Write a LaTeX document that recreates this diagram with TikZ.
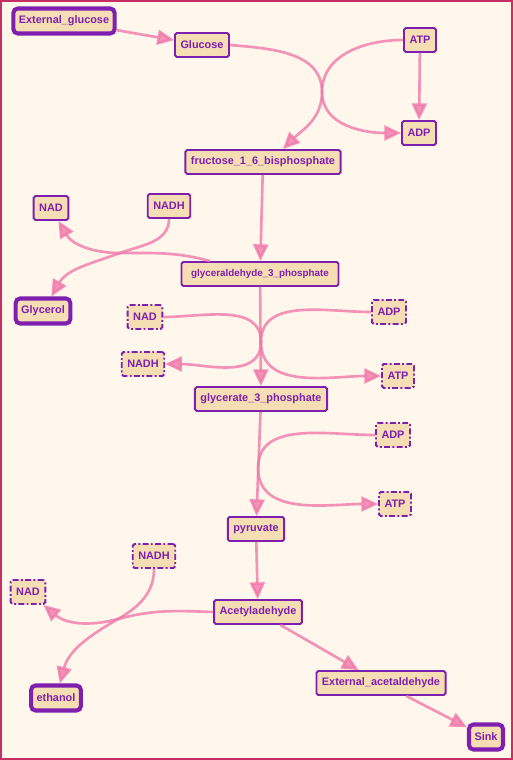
\documentclass[tikz,border=0pt]{standalone}
\usepackage[rgb]{xcolor}
\usepackage{fontspec}
\setmainfont{Liberation Sans}
\usetikzlibrary{arrows.meta,calc}
\definecolor{bgcream}{RGB}{255,246,236}
\definecolor{framered}{RGB}{196,48,100}
\definecolor{wheatfill}{RGB}{245,222,179}
\definecolor{speciespurple}{RGB}{126,31,176}
\definecolor{fluxpink}{RGB}{240,120,170}

\begin{document}
\begin{tikzpicture}[x=0.02cm, y=-0.02cm,
            species/.style={draw=speciespurple, fill=wheatfill, text=speciespurple, line width=1.1pt, rounded corners=1pt, font=\bfseries\fontsize{6.2}{7}\selectfont, inner xsep=0.11cm, inner ysep=0pt, minimum height=0.48cm},
            boundary/.style={species, line width=2.3pt, rounded corners=2.5pt, minimum height=0.5cm},
            cofactor/.style={species, dash pattern=on 3.4pt off 1.3pt on 1.1pt off 1.3pt},
            flux/.style={draw=fluxpink, opacity=0.8, line width=1.5pt, -{Triangle[length=9.5pt, width=8.5pt]}}
        ]
            \useasboundingbox (0,0) rectangle (513,760);
            \fill[bgcream] (0,0) rectangle (513,760);
            \draw[framered, line width=0.85pt] (0.8,0.8) rectangle (512.2,759.2);

            \node[boundary] (eg) at (64,21) {External\_glucose};
            \node[species] (glc) at (202,45) {Glucose};
            \node[species] (atp1) at (420,40) {ATP};
            \node[species] (adp1) at (419,133) {ADP};
            \node[species] (fbp) at (263,162) {fructose\_1\_6\_bisphosphate};
            \node[species] (nad1) at (51,208) {NAD};
            \node[species] (nadh1) at (169,206) {NADH};
            \node[species, font=\bfseries\fontsize{5.6}{7}\selectfont, minimum width=3.14cm] (gap) at (260,274) {glyceraldehyde\_3\_phosphate};
            \node[boundary] (glyc) at (43,311) {Glycerol};
            \node[cofactor] (nad2) at (145,317) {NAD};
            \node[cofactor] (adp2) at (389,312) {ADP};
            \node[cofactor] (nadh2) at (143,364) {NADH};
            \node[cofactor] (atp2) at (398,376) {ATP};
            \node[species] (g3p) at (261,399) {glycerate\_3\_phosphate};
            \node[cofactor] (adp3) at (393,435) {ADP};
            \node[cofactor] (atp3) at (395,504) {ATP};
            \node[species] (pyr) at (256,529) {pyruvate};
            \node[cofactor] (nadh3) at (154,556) {NADH};
            \node[cofactor] (nad3) at (28,592) {NAD};
            \node[species] (acald) at (258,612) {Acetyladehyde};
            \node[species] (extac) at (381,683) {External\_acetaldehyde};
            \node[boundary] (etoh) at (56,698) {ethanol};
            \node[boundary] (sink) at (486,737) {Sink};

            \coordinate (r1) at (322,92);
            \coordinate (r2) at (120,253);
            \coordinate (r3) at (261,342);
            \coordinate (r4) at (258,468);
            \coordinate (r5) at (118,619);

            \draw[flux] (eg) -- (glc);
            \draw[flux] (glc.east) to[out=-5,in=90] (r1) to[out=-90,in=180] (adp1.west);
            \draw[flux] (atp1.west) to[out=180,in=90] (r1) to[out=-90,in=45] ($(fbp.north)+(20,0)$);
            \draw[flux] (atp1) -- (adp1);
            \draw[flux] (fbp) -- (gap);
            \draw[flux] ($(gap.north)+(-50,0)$) to[out=165,in=0] (r2) to[out=180,in=-60] (nad1);
            \draw[flux] (nadh1.south) to[out=-90,in=20] (r2) to[out=200,in=60] (glyc);
            \draw[flux] (gap) -- (g3p);
            \draw[flux] (nad2.east) to[out=0,in=90] (r3) to[out=-90,in=0] (nadh2.east);
            \draw[flux] (adp2.west) to[out=180,in=90] (r3) to[out=-90,in=180] (atp2.west);
            \draw[flux] (g3p) -- (pyr);
            \draw[flux] (adp3.west) to[out=180,in=90] (r4) to[out=-90,in=180] (atp3.west);
            \draw[flux] (pyr) -- (acald);
            \draw[flux] (acald.west) to[out=178,in=15] (r5) to[out=195,in=-40] (nad3);
            \draw[flux] (nadh3.south) to[out=-90,in=30] (r5) to[out=210,in=75] (etoh);
            \draw[flux] (acald) -- (extac);
            \draw[flux] (extac) -- (sink);
        \end{tikzpicture}
\end{document}
